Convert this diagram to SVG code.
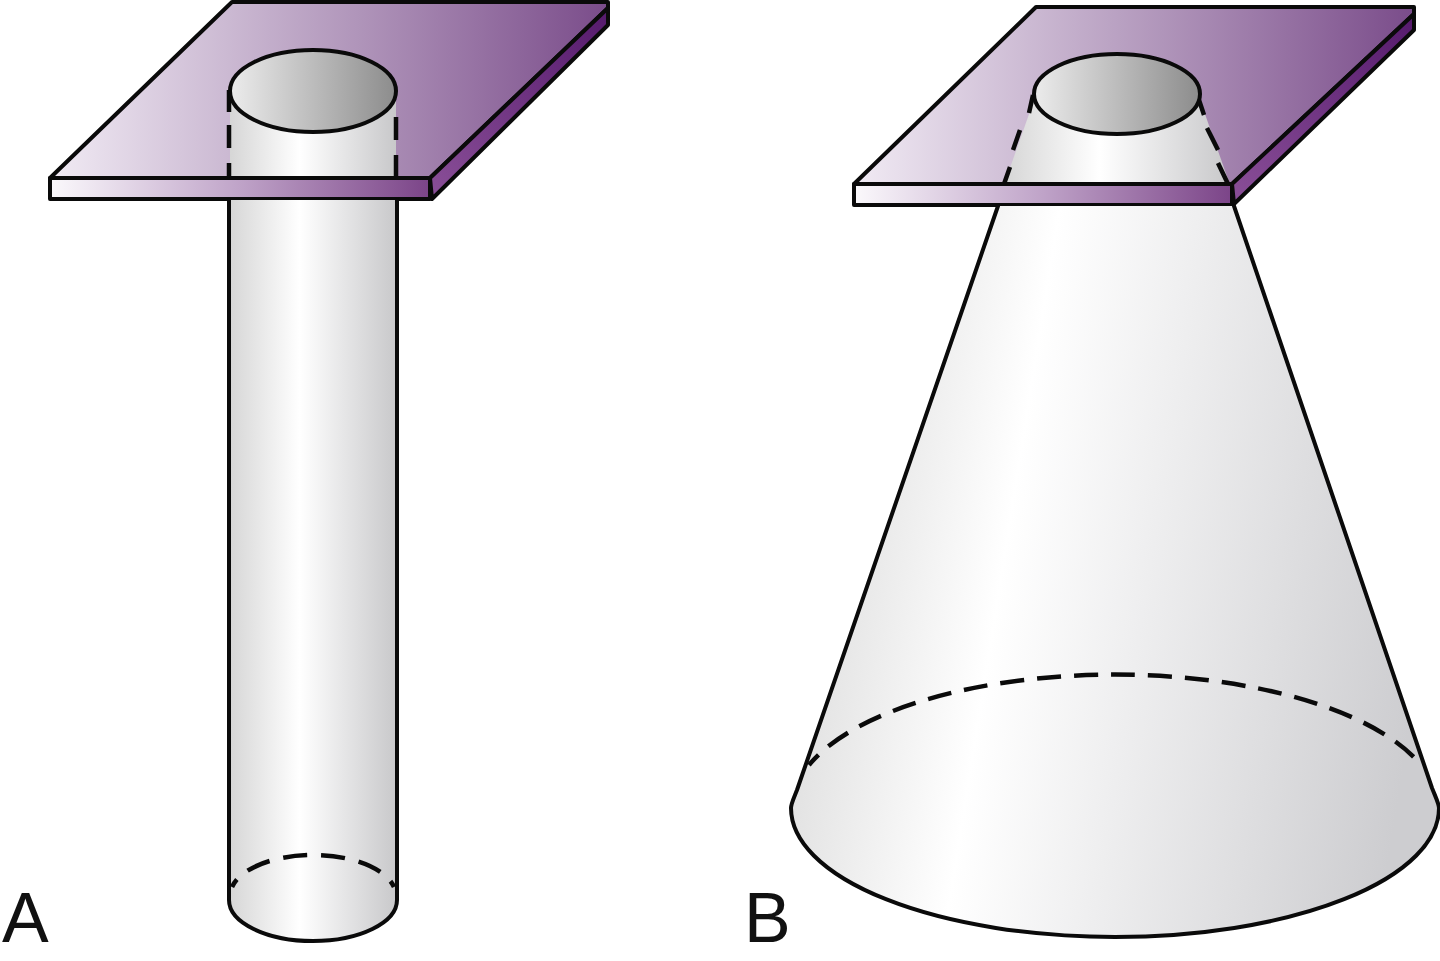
<svg xmlns="http://www.w3.org/2000/svg" width="1440" height="961" viewBox="0 0 1440 961">
<style>
.o{stroke:#0a0a0a;stroke-width:4;stroke-linejoin:round;stroke-linecap:round}
.d{fill:none;stroke:#0a0a0a;stroke-width:4.5}
.t{font-family:"Liberation Sans",Arial,sans-serif;font-size:70px;fill:#111}
</style>
<defs>
<linearGradient id="pl"><stop offset="0" stop-color="#f1ebf4"/><stop offset=".55" stop-color="#b095ba"/><stop offset="1" stop-color="#7a4c8a"/></linearGradient>
<linearGradient id="st"><stop offset="0" stop-color="#fbf9fc"/><stop offset=".5" stop-color="#bfa3c8"/><stop offset="1" stop-color="#7b4488"/></linearGradient>
<linearGradient id="sd" x1="0" y1="1" x2="1" y2="0"><stop offset="0" stop-color="#8a4f98"/><stop offset="1" stop-color="#551a6c"/></linearGradient>
<linearGradient id="cy"><stop offset="0" stop-color="#d6d6d6"/><stop offset=".42" stop-color="#ffffff"/><stop offset="1" stop-color="#c8c8ca"/></linearGradient>
<linearGradient id="cn" gradientUnits="userSpaceOnUse" x1="800" y1="500" x2="1430" y2="600"><stop offset="0" stop-color="#dcdcdc"/><stop offset=".33" stop-color="#ffffff"/><stop offset="1" stop-color="#cdcdd0"/></linearGradient>
<linearGradient id="tp"><stop offset="0" stop-color="#ececec"/><stop offset="1" stop-color="#8c8c8c"/></linearGradient>
</defs>
<rect width="1440" height="961" fill="#fff"/>
<g id="shape-a">
<path class="o" fill="url(#pl)" d="M50 178L232 2H608V8L430 178Z"/>
<path class="o" fill="url(#sd)" d="M430 178L608 8V25L432 199Z"/>
<path fill="url(#cy)" d="M230 91H396V176H230Z"/>
<path class="d" d="M229 90V112M229 125V148M229 163V178M396 117V140M396 155V178"/>
<ellipse class="o" fill="url(#tp)" cx="313" cy="91" rx="83" ry="41"/>
<rect class="o" fill="url(#st)" x="50" y="178" width="380" height="21"/>
<path class="o" fill="url(#cy)" d="M229 200V900A84 41 0 0 0 397 900V200"/>
<path class="d" d="M232 887A83 41 0 0 1 394 887" stroke-dasharray="24 14" stroke-dashoffset="15"/>
</g>
<g id="shape-b">
<path class="o" fill="url(#pl)" d="M854 184L1036 7H1414V14L1232 184Z"/>
<path class="o" fill="url(#sd)" d="M1232 184L1414 14V30L1234 204Z"/>
<path fill="url(#cy)" d="M1034 100H1200L1229 182H1005Z"/>
<path class="d" d="M1033 95L1029 113M1020 130L1013 150M1010 167L1004 184M1199 100L1204 115M1207 128L1218 150M1218 163L1228 184"/>
<ellipse class="o" fill="url(#tp)" cx="1117" cy="94" rx="83" ry="40"/>
<rect class="o" fill="url(#st)" x="854" y="184" width="378" height="21"/>
<path class="o" fill="url(#cn)" d="M998 206L797 790C793 800 791 804 791 808A324 129 0 0 0 1439 808C1439 804 1436 798 1432 788L1234 206"/>
<path class="d" d="M809 765A323 133 0 0 1 1421 765" stroke-dasharray="24 13" stroke-dashoffset="10"/>
</g>
<g id="labels">
<text class="t" x="2" y="942">A</text>
<text class="t" x="744" y="942">B</text>
</g>
</svg>
